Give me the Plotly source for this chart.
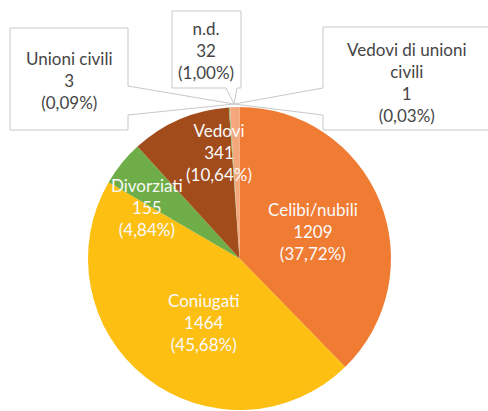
import math
import plotly.graph_objects as go

W, H = 488, 411

labels = ["Celibi/nubili", "Coniugati", "Divorziati", "Vedovi",
          "Unioni civili", "Vedovi di unioni civili", "n.d."]
counts = [1209, 1464, 155, 341, 3, 1, 32]
pct_text = ["37,72%", "45,68%", "4,84%", "10,64%", "0,09%", "0,03%", "1,00%"]
colors = ["#F07B32", "#FCBF12", "#6EAD47", "#A34C1B", "#8DB86A", "#A5A5A5", "#F4A77A"]

# pie geometry in pixels
CX, CY, R = 239.5, 258.5, 151.5


def px(x):
    return x / W


def py(y):
    return 1 - y / H


fig = go.Figure(go.Pie(
    labels=labels, values=counts, sort=False, direction="clockwise", rotation=0,
    marker=dict(colors=colors, line=dict(width=0)),
    textinfo="none", hoverinfo="label+value+percent",
    domain=dict(x=[px(CX - R), px(CX + R)], y=[py(CY + R), py(CY - R)]),
    showlegend=False,
))

inside_font = dict(family="Lato", size=17, color="#FAFAFA")
box_font = dict(family="Lato", size=17, color="#454545")

# inside labels (label centre in px)
inside_pos = {0: (313, 231), 1: (204, 322), 2: (147, 207), 3: (219, 152)}
for i, (x, y) in inside_pos.items():
    fig.add_annotation(x=px(x), y=py(y), xref="paper", yref="paper",
                       xanchor="center", yanchor="middle",
                       text=f"{labels[i]}<br>{counts[i]}<br>({pct_text[i]})",
                       showarrow=False, font=inside_font, align="center")

# callout tip: middle of the small slices near 12 o'clock
total = sum(counts)
small_start = sum(counts[:4]) / total
ang = 2 * math.pi * (small_start + (1 - small_start) / 2)
tip = (CX + 1.02 * R * math.sin(ang), CY - 1.02 * R * math.cos(ang))

# callout boxes: (x0, y0, x1, y1), side of pointer, text, text centre
callouts = [
    ((10, 28, 128, 130), "right", f"{labels[4]}<br>{counts[4]}<br>({pct_text[4]})", (69, 80)),
    ((172, 11, 241, 88), "bottom", f"{labels[6]}<br>{counts[6]}<br>({pct_text[6]})", (206, 51)),
    ((323, 27, 495, 130), "left", f"Vedovi di unioni<br>civili<br>{counts[5]}<br>({pct_text[5]})", (407, 83)),
]

for (x0, y0, x1, y1), side, text, (tx, ty) in callouts:
    if side == "right":
        pts = [(x0, y0), (x1, y0), (x1, 86), tip, (x1, 115), (x1, y1), (x0, y1)]
    elif side == "left":
        pts = [(x0, y0), (x1, y0), (x1, y1), (x0, y1), (x0, 115), tip, (x0, 88)]
    else:
        pts = [(x0, y0), (x1, y0), (x1, y1), (237, y1), tip, (226, y1), (x0, y1)]
    path = "M " + " L ".join(f"{px(a):.5f},{py(b):.5f}" for a, b in pts) + " Z"
    fig.add_shape(type="path", path=path, xref="paper", yref="paper",
                  line=dict(color="#C8C8C8", width=1), fillcolor="white", layer="above")
    fig.add_annotation(x=px(tx), y=py(ty), xref="paper", yref="paper", text=text,
                       xanchor="center", yanchor="middle",
                       showarrow=False, font=box_font, align="center")

fig.update_layout(width=W, height=H, margin=dict(l=0, r=0, t=0, b=0),
                  paper_bgcolor="white", plot_bgcolor="white")

fig.write_html("out.html", config={"displayModeBar": False},
               post_script="document.body.style.margin='0';")
